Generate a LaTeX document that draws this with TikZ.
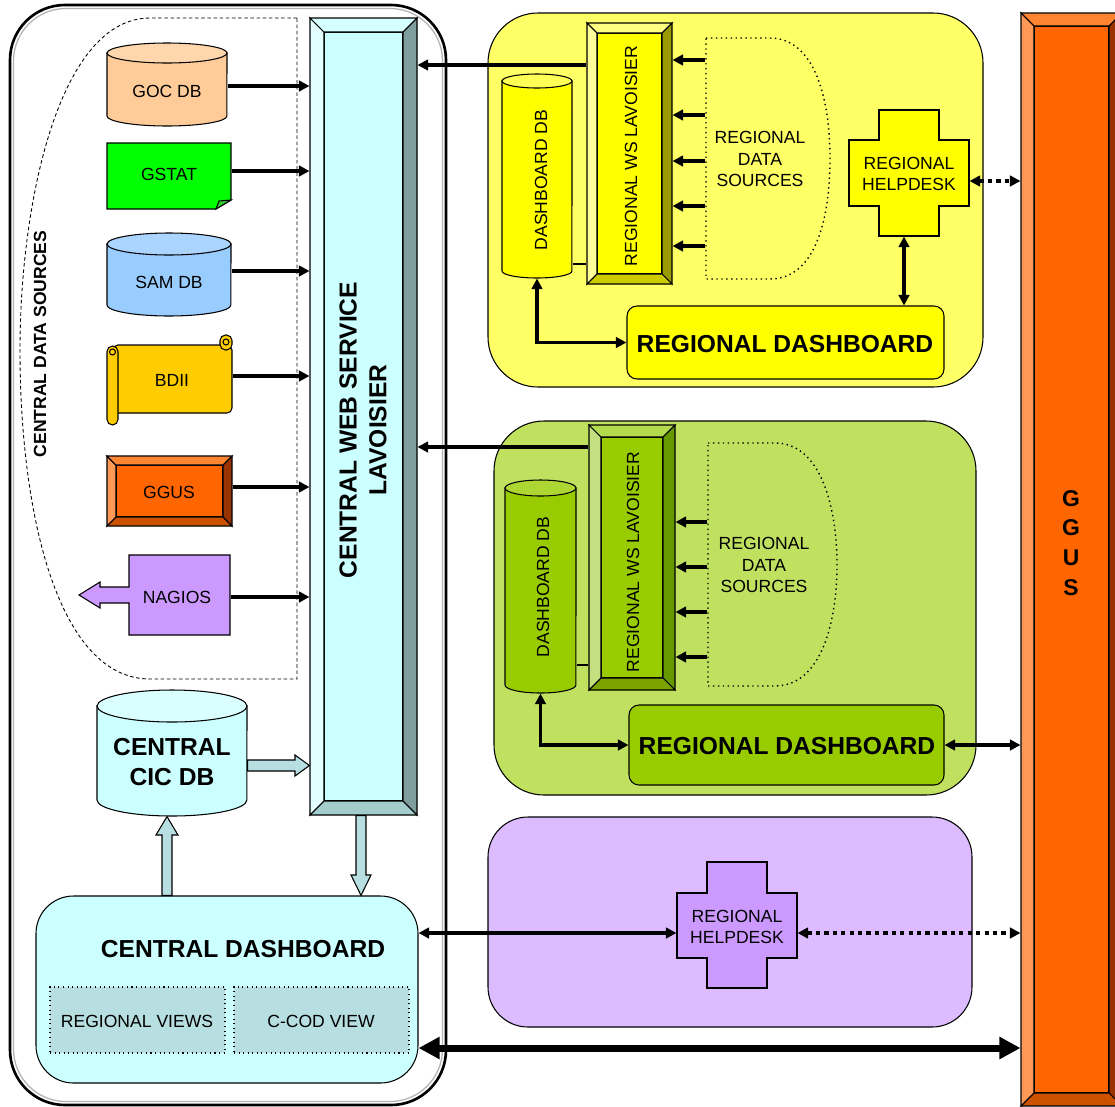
\documentclass[tikz,border=0pt]{standalone}
\usepackage{fontspec}
\setmainfont{Liberation Sans}
\usepackage{xcolor}
\usepackage{tikz}
\usetikzlibrary{arrows.meta,fit}

\definecolor{cicCyan}{HTML}{CCFFFF}
\definecolor{cicTeal}{HTML}{B7DEE0}
\definecolor{cicTop}{HTML}{D9FFFF}
\definecolor{cwsF}{HTML}{CCFFFF}
\definecolor{cwsL}{HTML}{E3FFFF}
\definecolor{cwsT}{HTML}{D6FFFF}
\definecolor{cwsR}{HTML}{7F9F9F}
\definecolor{cwsB}{HTML}{A3CCCC}
\definecolor{gocBody}{HTML}{FFCC99}
\definecolor{gocTop}{HTML}{FFD7AD}
\definecolor{samBody}{HTML}{99CCFF}
\definecolor{samTop}{HTML}{ABD5FF}
\definecolor{gstatGreen}{HTML}{00FF00}
\definecolor{gstatFold}{HTML}{33CC33}
\definecolor{bdiiGold}{HTML}{FFCC00}
\definecolor{ggF}{HTML}{FF6600}
\definecolor{ggL}{HTML}{FF9955}
\definecolor{ggT}{HTML}{FF8533}
\definecolor{ggR}{HTML}{993300}
\definecolor{ggB}{HTML}{CC5200}
\definecolor{nagPurple}{HTML}{CC99FF}
\definecolor{yelBg}{HTML}{FFFF66}
\definecolor{yelFill}{HTML}{FFFF00}
\definecolor{ydbTop}{HTML}{FFFF55}
\definecolor{ywsF}{HTML}{FFFF00}
\definecolor{ywsL}{HTML}{FFFF99}
\definecolor{ywsT}{HTML}{FFFF80}
\definecolor{ywsR}{HTML}{999900}
\definecolor{ywsB}{HTML}{CCCC00}
\definecolor{grnBg}{HTML}{C0E060}
\definecolor{grnFill}{HTML}{99CC00}
\definecolor{gdbTop}{HTML}{ADD633}
\definecolor{gwsF}{HTML}{99CC00}
\definecolor{gwsL}{HTML}{C2E080}
\definecolor{gwsT}{HTML}{B3D94D}
\definecolor{gwsR}{HTML}{669900}
\definecolor{gwsB}{HTML}{7AA300}
\definecolor{purBg}{HTML}{DDBBFF}
\definecolor{purFill}{HTML}{CC99FF}

% bevelled bar: x1, y1, x2, y2, depth, colour prefix
\newcommand{\bevelbar}[6]{%
  \filldraw[fill=#6F] ({#1+#5},{#2+#5}) rectangle ({#3-#5},{#4-#5});
  \filldraw[fill=#6L] (#1,#2) -- ({#1+#5},{#2+#5}) -- ({#1+#5},{#4-#5}) -- (#1,#4) -- cycle;
  \filldraw[fill=#6T] (#1,#2) -- (#3,#2) -- ({#3-#5},{#2+#5}) -- ({#1+#5},{#2+#5}) -- cycle;
  \filldraw[fill=#6R] (#3,#2) -- (#3,#4) -- ({#3-#5},{#4-#5}) -- ({#3-#5},{#2+#5}) -- cycle;
  \filldraw[fill=#6B] (#1,#4) -- (#3,#4) -- ({#3-#5},{#4-#5}) -- ({#1+#5},{#4-#5}) -- cycle;
}
% database drum: x1, y1, x2, y2, cap height, body colour, top colour
\newcommand{\dbcyl}[7]{%
  \filldraw[fill=#6] (#1,{#2+#5}) -- (#1,{#4-#5})
    arc[start angle=180,end angle=360,x radius={(#3-#1)*0.01cm},y radius={#5*0.02cm}]
    -- (#3,{#2+#5}) -- cycle;
  \filldraw[fill=#7] ({(#1+#3)/2},{#2+#5}) ellipse[x radius={(#3-#1)*0.01cm},y radius={#5*0.02cm}];
}

\begin{document}
\begin{tikzpicture}[x=0.02cm,y=-0.02cm,line width=0.6pt,
    >={Triangle[length=6pt,width=6pt]},
    txt/.style={font=\fontsize{10}{12}\selectfont, align=center},
    bigtxt/.style={font=\fontsize{14}{17}\selectfont\bfseries, align=center},
    zone/.style={inner sep=0pt},
    flow/.style={line width=2.1pt},
    dotflow/.style={line width=2.1pt, dash pattern=on 2.4pt off 2.4pt},
    fatarrow/.style={fill=cicTeal, draw=black, line width=0.6pt}]
  \useasboundingbox (0,0) rectangle (1115,1106);
  \clip (0,0) rectangle (1115,1106);
  \fill[white] (0,0) rectangle (1115,1106);

  % central part
  \draw[line width=1.5pt, rounded corners=1.1cm] (10,5) rectangle (446,1105);
  \draw[gray!60, line width=0.7pt, rounded corners=1.05cm] (13.5,8.5) rectangle (442.5,1101.5);
  \draw[line width=0.5pt, dash pattern=on 2pt off 1.5pt] (297,18) -- (150,18)
    .. controls (60,18) and (20,200) .. (20,350)
    .. controls (20,520) and (60,679) .. (150,679) -- (297,679) -- cycle;
  \node[font=\fontsize{10}{12}\selectfont\bfseries, rotate=90] (cdsrc) at (40,344) {CENTRAL DATA SOURCES};

  \bevelbar{310}{18}{417}{815}{14}{cws}
  \node[zone, fit={(310,18) (417,815)}] (cws) {};
  \node[bigtxt, rotate=90] at (363,430) {CENTRAL WEB SERVICE\\LAVOISIER};

  % data sources
  \dbcyl{107}{43}{227}{126}{10}{gocBody}{gocTop}
  \node[zone, fit={(107,43) (227,126)}] (goc) {};
  \node[txt] at (167,91) {GOC DB};

  \filldraw[fill=gstatGreen] (107,143) -- (231,143) -- (231,200) -- (216,209) -- (107,209) -- cycle;
  \filldraw[fill=gstatFold] (216,209) -- (219,201) -- (231,200) -- cycle;
  \node[zone, fit={(107,143) (231,209)}] (gstat) {};
  \node[txt] at (169,174) {GSTAT};

  \dbcyl{107}{233}{231}{316}{11}{samBody}{samTop}
  \node[zone, fit={(107,233) (231,316)}] (sam) {};
  \node[txt] at (169,282) {SAM DB};

  \filldraw[fill=bdiiGold, rounded corners=0.1cm] (113,345) rectangle (232,413);
  \filldraw[fill=bdiiGold, rounded corners=0.11cm] (220,335) rectangle (232,350);
  \draw (226,342) circle[radius=0.06cm];
  \filldraw[fill=bdiiGold, rounded corners=0.11cm] (107,346) rectangle (118,425);
  \draw (112.5,352) circle[radius=0.06cm];
  \node[zone, fit={(107,335) (232,425)}] (bdii) {};
  \node[txt] at (172,380) {BDII};

  \bevelbar{107}{456}{232}{526}{9}{gg}
  \node[zone, fit={(107,456) (232,526)}] (ggus) {};
  \node[txt] at (169,492) {GGUS};

  \filldraw[fill=nagPurple] (129,555) -- (230,555) -- (230,635) -- (129,635) -- (129,603)
    -- (100,603) -- (100,608) -- (79,595) -- (100,582) -- (100,587) -- (129,587) -- cycle;
  \node[zone, fit={(129,555) (230,635)}] (nagios) {};
  \node[txt] at (177,597) {NAGIOS};

  \foreach \src/\yy in {goc/86, gstat/171, sam/271, bdii/376, ggus/487, nagios/597}
    \draw[flow,->] (\src.east |- 0,\yy) -- (cws.west |- 0,\yy);

  % central db and dashboard
  \dbcyl{97}{690}{247}{816}{16}{cicCyan}{cicTop}
  \node[zone, fit={(97,690) (247,816)}] (cicdb) {};
  \node[bigtxt] at (172,762) {CENTRAL\\CIC DB};

  \node[zone, fit={(36,896) (418,1083)}, draw, fill=cicCyan, rounded corners=0.75cm] (cdash) {};
  \node[bigtxt] at (243,949) {CENTRAL DASHBOARD};
  \node[zone, fit={(50,987) (225,1053)}, draw, dotted, fill=cicTeal] (rviews) {};
  \node[txt] at (137,1021) {REGIONAL VIEWS};
  \node[zone, fit={(234,987) (409,1053)}, draw, dotted, fill=cicTeal] (ccod) {};
  \node[txt] at (321,1021) {C-COD VIEW};

  \filldraw[fatarrow] (cicdb.east |- 0,760) -- (295,760) -- (295,755) -- (cws.west |- 0,765.5)
    -- (295,776) -- (295,771) -- (cicdb.east |- 0,771) -- cycle;
  \filldraw[fatarrow] (cdash.north -| 162,0) -- (162,835) -- (156,835) -- (cicdb.south -| 167,0)
    -- (178,835) -- (172,835) -- (cdash.north -| 172,0) -- cycle;
  \filldraw[fatarrow] (cws.south -| 356,0) -- (356,875) -- (351,875) -- (cdash.north -| 361,0)
    -- (371,875) -- (366,875) -- (cws.south -| 366,0) -- cycle;

  % yellow region
  \node[zone, fit={(488,13) (983,387)}, draw, fill=yelBg, rounded corners=1cm] (yreg) {};
  \dbcyl{502}{74}{572}{278}{7}{yelFill}{ydbTop}
  \node[zone, fit={(502,74) (572,278)}] (ydb) {};
  \node[txt, rotate=90] at (541,180) {DASHBOARD DB};
  \bevelbar{587}{23}{672}{284}{10}{yws}
  \node[zone, fit={(587,23) (672,284)}] (yws) {};
  \node[txt, rotate=90] at (631,156) {REGIONAL WS LAVOISIER};
  \draw[dotted, line width=0.8pt] (706,38) -- (770,38) .. controls (815,38) and (830,100) .. (830,158)
    .. controls (830,220) and (815,279) .. (770,279) -- (706,279) -- cycle;
  \node[zone, fit={(706,38) (830,279)}] (yrds) {};
  \node[txt] at (760,159) {REGIONAL\\DATA\\SOURCES};
  \filldraw[fill=yelFill] (879,110) -- (939,110) -- (939,140) -- (969,140) -- (969,206) -- (939,206)
    -- (939,236) -- (879,236) -- (879,206) -- (849,206) -- (849,140) -- (879,140) -- cycle;
  \node[zone, fit={(849,110) (969,236)}] (yhd) {};
  \node[txt] at (909,174) {REGIONAL\\HELPDESK};
  \node[zone, fit={(627,306) (944,379)}, draw, fill=yelFill, rounded corners=0.2cm] (ydash) {};
  \node[bigtxt] at (785,344) {REGIONAL DASHBOARD};

  % green region
  \node[zone, fit={(494,421) (976,795)}, draw, fill=grnBg, rounded corners=1cm] (greg) {};
  \dbcyl{505}{480}{576}{693}{8}{grnFill}{gdbTop}
  \node[zone, fit={(505,480) (576,693)}] (gdb) {};
  \node[txt, rotate=90] at (543,587) {DASHBOARD DB};
  \bevelbar{589}{425}{675}{690}{12}{gws}
  \node[zone, fit={(589,425) (675,690)}] (gws) {};
  \node[txt, rotate=90] at (633,562) {REGIONAL WS LAVOISIER};
  \draw[dotted, line width=0.8pt] (708,443) -- (775,443) .. controls (822,443) and (837,510) .. (837,565)
    .. controls (837,620) and (822,686) .. (775,686) -- (708,686) -- cycle;
  \node[zone, fit={(708,443) (837,686)}] (grds) {};
  \node[txt] at (764,565) {REGIONAL\\DATA\\SOURCES};
  \node[zone, fit={(629,705) (944,785)}, draw, fill=grnFill, rounded corners=0.2cm] (gdash) {};
  \node[bigtxt] at (787,746) {REGIONAL DASHBOARD};

  % purple region
  \node[zone, fit={(488,817) (972,1027)}, draw, fill=purBg, rounded corners=0.8cm] (preg) {};
  \filldraw[fill=purFill] (707,862) -- (767,862) -- (767,893) -- (797,893) -- (797,958) -- (767,958)
    -- (767,988) -- (707,988) -- (707,958) -- (677,958) -- (677,893) -- (707,893) -- cycle;
  \node[zone, fit={(677,862) (797,988)}] (phd) {};
  \node[txt] at (737,927) {REGIONAL\\HELPDESK};

  % GGUS bar
  \bevelbar{1021}{13}{1122}{1106}{13}{gg}
  \node[zone, fit={(1021,13) (1115,1106)}] (ggusbar) {};
  \node[font=\fontsize{13}{17}\selectfont\bfseries, align=center] at (1071,543) {G\\G\\U\\S};

  % connectors
  \draw[flow,<-] (cws.east |- 0,65) -- (yws.west |- 0,65);
  \draw[flow,<-] (cws.east |- 0,447) -- (gws.west |- 0,447);
  \foreach \yy in {60,115,161,206,246}
    \draw[flow,->] (yrds.west |- 0,\yy) -- (yws.east |- 0,\yy);
  \foreach \yy in {522,567,612,657}
    \draw[flow,->] (grds.west |- 0,\yy) -- (gws.east |- 0,\yy);
  \draw (ydb.east |- 0,264) -- (yws.west |- 0,264);
  \draw (gdb.east |- 0,665) -- (gws.west |- 0,665);
  \draw[flow,<->] (ydb.south) |- (ydash.west);
  \draw[flow,<->] (gdb.south) |- (gdash.west);
  \draw[flow,<->] (yhd.south -| 904,0) -- (ydash.north -| 904,0);
  \draw[dotflow,<->] (yhd.east |- 0,181) -- (ggusbar.west |- 0,181);
  \draw[flow,<->] (gdash.east) -- (ggusbar.west |- gdash.east);
  \draw[flow,<->] (cdash.east |- 0,933) -- (phd.west |- 0,933);
  \draw[dotflow,<->] (phd.east |- 0,933) -- (ggusbar.west |- 0,933);
  \draw[line width=4pt, {Triangle[length=12pt,width=12pt]}-{Triangle[length=12pt,width=12pt]}]
    (cdash.east |- 0,1048) -- (ggusbar.west |- 0,1048);
\end{tikzpicture}
\end{document}
